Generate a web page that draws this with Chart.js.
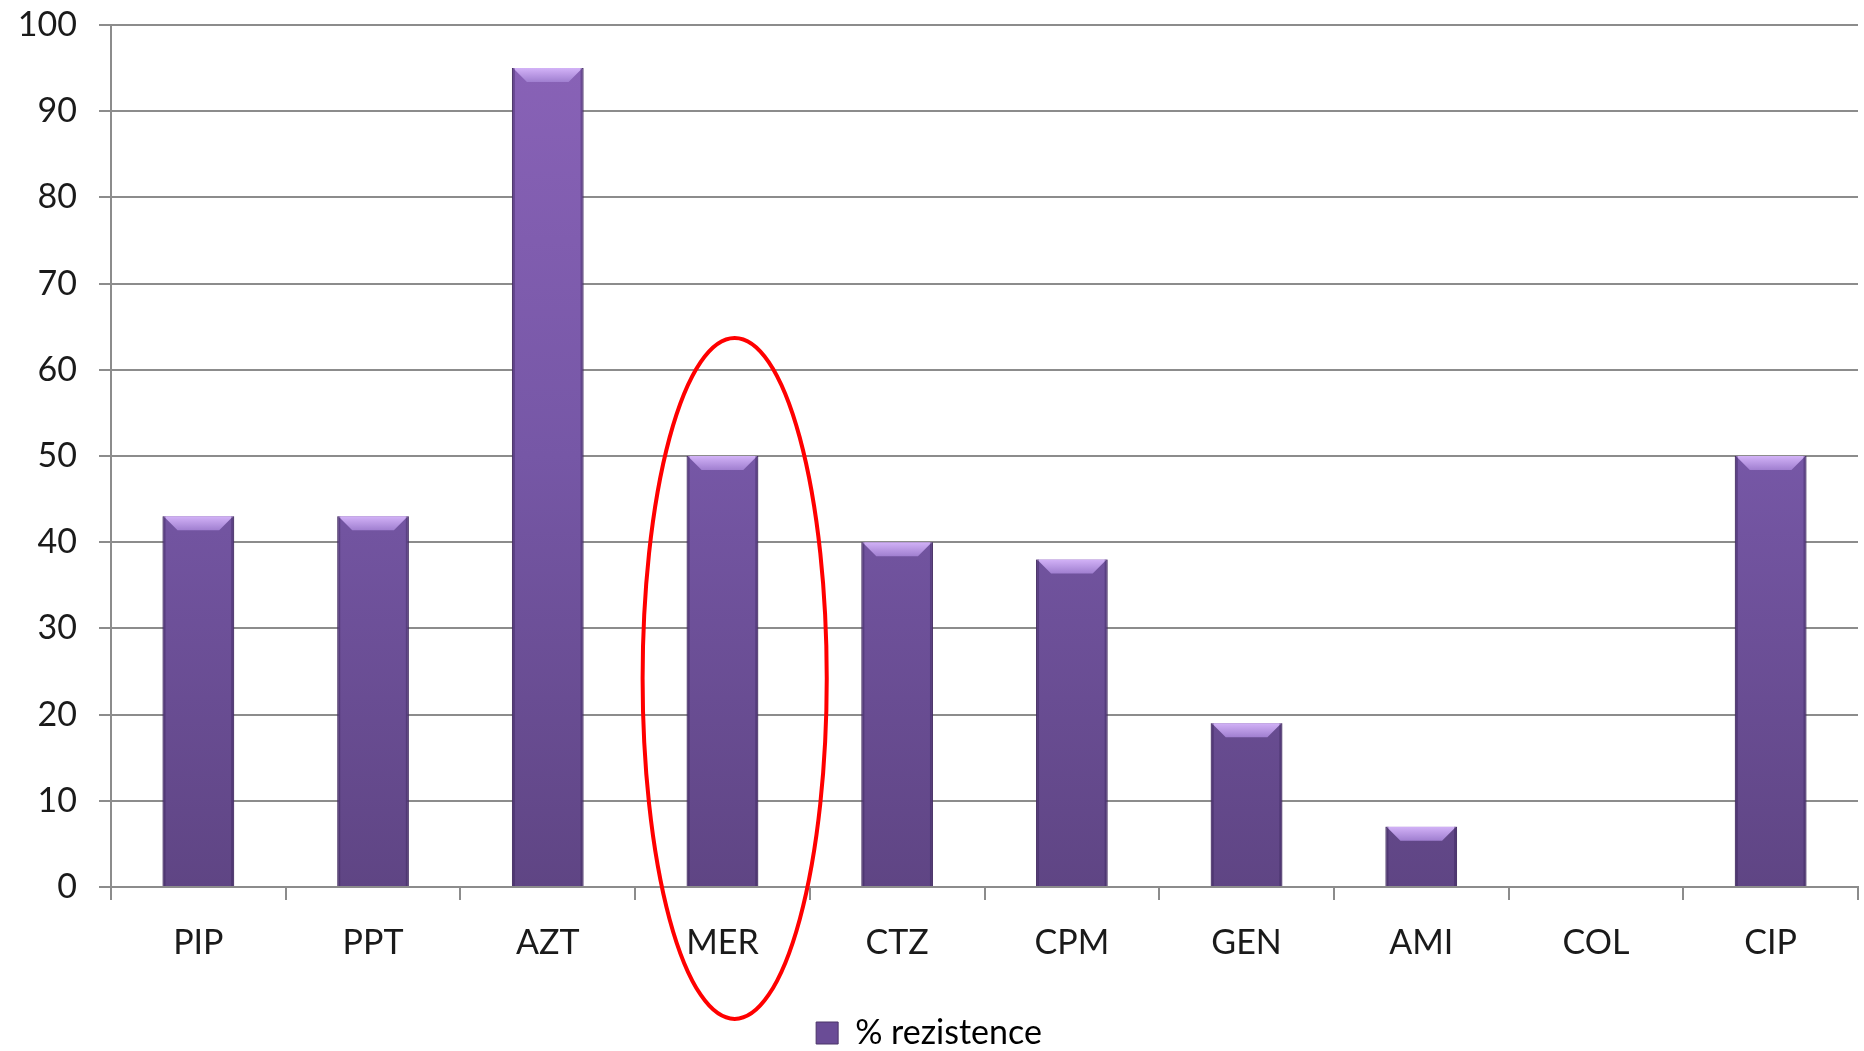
<!DOCTYPE html>
<html>
<head>
<meta charset="utf-8">
<script src="https://cdn.jsdelivr.net/npm/chart.js@4/dist/chart.umd.min.js"></script>
<style>
  html, body { margin: 0; padding: 0; background: #fff; }
  #wrap { width: 1864px; height: 1051px; position: relative; }
</style>
</head>
<body>
<div id="wrap"><canvas id="barChart"></canvas></div>
<script>
const categories = ["PIP", "PPT", "AZT", "MER", "CTZ", "CPM", "GEN", "AMI", "COL", "CIP"];
const resistance = [43, 43, 95, 50, 40, 38, 19, 7, 0, 50];
const seriesName = "% rezistence";
const yTicks = [0, 10, 20, 30, 40, 50, 60, 70, 80, 90, 100];

// red ring drawn around one category (value units on the y axis)
const highlight = { category: "MER", top: 63.7, bottom: -15.3 };

const barGradient = (ctx) => {
  const area = ctx.chart.chartArea;
  if (!area) return "#7355a0";
  const g = ctx.chart.ctx.createLinearGradient(0, area.top, 0, area.bottom);
  g.addColorStop(0, "#8a63b8");
  g.addColorStop(0.5, "#7657a6");
  g.addColorStop(1, "#5f4584");
  return g;
};

// light bevel on top of each bar
const bevelPlugin = {
  id: "bevel",
  afterDatasetsDraw(chart) {
    const ctx = chart.ctx;
    chart.getDatasetMeta(0).data.forEach((bar, i) => {
      if (!resistance[i]) return;
      const half = bar.width / 2;
      const left = bar.x - half, right = bar.x + half, top = bar.y;
      const h = Math.min(14, (bar.base - bar.y) / 2);
      const g = ctx.createLinearGradient(0, top, 0, top + h);
      g.addColorStop(0, "#d2b2f7");
      g.addColorStop(1, "#a07fd0");
      ctx.save();
      ctx.fillStyle = g;
      ctx.beginPath();
      ctx.moveTo(left + 1, top);
      ctx.lineTo(right - 1, top);
      ctx.lineTo(right - 1 - h, top + h);
      ctx.lineTo(left + 1 + h, top + h);
      ctx.closePath();
      ctx.fill();
      // dark side edges
      ctx.fillStyle = "rgba(50,30,80,0.35)";
      ctx.fillRect(left, top, 3, bar.base - top);
      ctx.fillRect(right - 3, top, 3, bar.base - top);
      ctx.restore();
    });
  }
};

const ringPlugin = {
  id: "ring",
  afterDraw(chart) {
    const x = chart.scales.x, y = chart.scales.y;
    const idx = categories.indexOf(highlight.category);
    const step = x.getPixelForValue(1) - x.getPixelForValue(0);
    const cx = x.getPixelForValue(idx) + step * 0.07;
    const yTop = y.getPixelForValue(highlight.top);
    const yBot = y.getPixelForValue(highlight.bottom);
    const ctx = chart.ctx;
    ctx.save();
    ctx.strokeStyle = "#ff0000";
    ctx.lineWidth = 4;
    ctx.beginPath();
    ctx.ellipse(cx, (yTop + yBot) / 2, step * 0.527, (yBot - yTop) / 2, 0, 0, Math.PI * 2);
    ctx.stroke();
    ctx.restore();
  }
};

const font = { family: "Lato, 'Open Sans', sans-serif", size: 34 };

new Chart(document.getElementById("barChart"), {
  type: "bar",
  data: {
    labels: categories,
    datasets: [{
      label: seriesName,
      data: resistance,
      backgroundColor: barGradient,
      borderColor: "#53396f",
      borderWidth: 1,
      categoryPercentage: 1,
      barPercentage: 0.41
    }]
  },
  options: {
    responsive: true,
    maintainAspectRatio: false,
    animation: false,
    layout: { padding: { top: 25, right: 6, left: 0, bottom: -9 } },
    plugins: {
      tooltip: { enabled: false },
      legend: {
        position: "bottom",
        labels: {
          color: "#1a1a1a",
          font: font,
          boxWidth: 22,
          boxHeight: 22,
          padding: 0,
          generateLabels: (chart) => [{
            text: seriesName,
            fillStyle: "#6a4c96",
            strokeStyle: "#4b3469",
            lineWidth: 1,
            datasetIndex: 0
          }]
        }
      }
    },
    scales: {
      x: {
        grid: {
          display: true,
          drawOnChartArea: false,
          offset: true,
          color: "#8c8c8c",
          lineWidth: 2,
          tickLength: 13
        },
        border: { color: "#8c8c8c", width: 2 },
        ticks: { color: "#1a1a1a", font: font, padding: 23, maxRotation: 0 },
        afterFit: (s) => { s.height = 129; s.paddingLeft = 0; s.paddingRight = 0; }
      },
      y: {
        min: 0,
        max: 100,
        afterBuildTicks: (s) => { s.ticks = yTicks.map(v => ({ value: v })); },
        grid: { color: "#8c8c8c", lineWidth: 2, tickLength: 12 },
        border: { color: "#8c8c8c", width: 2 },
        ticks: { color: "#1a1a1a", font: font, padding: 22 },
        afterFit: (s) => { s.width = 111; s.paddingTop = 0; s.paddingBottom = 0; }
      }
    }
  },
  plugins: [bevelPlugin, ringPlugin]
});
</script>
</body>
</html>
